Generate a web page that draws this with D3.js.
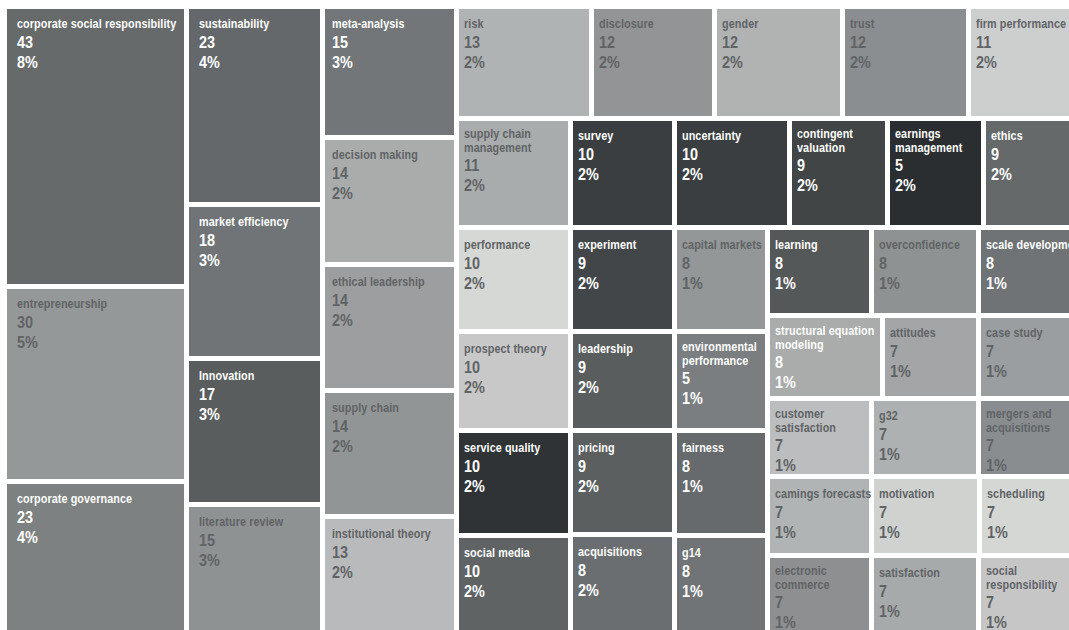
<!DOCTYPE html>
<html>
<head>
<meta charset="utf-8">
<script src="https://cdn.jsdelivr.net/npm/d3@7"></script>
<style>
  body { margin: 0; background: #fff; }
  svg { display: block; }
  text { font-family: "Liberation Sans", Arial, sans-serif; font-weight: bold; }
</style>
</head>
<body>
<div id="chart"></div>
<script>
// keywords with the count and share printed in each cell
const keywords = [
  "corporate social responsibility", "entrepreneurship", "corporate governance",
  "sustainability", "market efficiency", "Innovation", "literature review",
  "meta-analysis", "decision making", "ethical leadership", "supply chain", "institutional theory",
  "risk", "disclosure", "gender", "trust", "firm performance",
  "supply chain management", "survey", "uncertainty", "contingent valuation", "earnings management", "ethics",
  "performance", "prospect theory", "service quality", "social media",
  "experiment", "leadership", "pricing", "acquisitions",
  "capital markets", "environmental performance", "fairness", "g14",
  "learning", "overconfidence", "scale development",
  "structural equation modeling", "attitudes", "case study",
  "customer satisfaction", "g32", "mergers and acquisitions",
  "camings forecasts", "motivation", "scheduling",
  "electronic commerce", "satisfaction", "social responsibility"
];
const counts = [
  43, 30, 23,
  23, 18, 17, 15,
  15, 14, 14, 14, 13,
  13, 12, 12, 12, 11,
  11, 10, 10, 9, 5, 9,
  10, 10, 10, 10,
  9, 9, 9, 8,
  8, 5, 8, 8,
  8, 8, 8,
  8, 7, 7,
  7, 7, 7,
  7, 7, 7,
  7, 7, 7
];
const shares = [
  "8%", "5%", "4%",
  "4%", "3%", "3%", "3%",
  "3%", "2%", "2%", "2%", "2%",
  "2%", "2%", "2%", "2%", "2%",
  "2%", "2%", "2%", "2%", "2%", "2%",
  "2%", "2%", "2%", "2%",
  "2%", "2%", "2%", "2%",
  "1%", "1%", "1%", "1%",
  "1%", "1%", "1%",
  "1%", "1%", "1%",
  "1%", "1%", "1%",
  "1%", "1%", "1%",
  "1%", "1%", "1%"
];
// relative cell areas as they appear in the picture (not the counts)
const weights = [
  509.6, 354.9, 293.0,
  268.6, 210.1, 199.2, 187.0,
  175.5, 170.9, 168.2, 168.2, 169.5,
  151.2, 137.8, 143.4, 140.6, 133.8,
  124.8, 113.9, 125.9, 107.9, 104.6, 113.9,
  118.3, 113.1, 119.1, 122.6,
  108.2, 103.0, 108.2, 112.3,
  97.1, 92.8, 97.7, 100.5,
  91.5, 94.2, 95.5,
  95.2, 79.5, 89.8,
  80.8, 83.1, 84.3,
  82.5, 84.9, 86.0,
  90.7, 93.3, 94.6
];
const fills = [
  "#676a6b", "#959898", "#7e8181",
  "#65686a", "#707477", "#5a5d5e", "#8f9293",
  "#727678", "#a9acab", "#9c9e9f", "#929595", "#b9babb",
  "#b0b3b3", "#929495", "#b0b3b2", "#8b8e90", "#cdcfce",
  "#a9acac", "#3b3e40", "#3b3e40", "#424546", "#2b2e30", "#65696a",
  "#d6d8d5", "#c8c8c8", "#303336", "#5f6364",
  "#434648", "#5a5d5e", "#5c5f60", "#6b6e70",
  "#949798", "#7a7e80", "#676a6c", "#717476",
  "#555859", "#8f9293", "#6f7375",
  "#a9acab", "#a3a5a6", "#9b9ea0",
  "#bcbdbe", "#aeb1b1", "#8a8d90",
  "#b1b4b4", "#d0d2d0", "#d5d7d4",
  "#8d8f90", "#a7aaaa", "#c6c6c6"
];
// cells whose labels are printed in white
const whiteLabels = [
  "corporate social responsibility", "corporate governance", "sustainability", "market efficiency",
  "Innovation", "meta-analysis", "survey", "uncertainty", "contingent valuation",
  "earnings management", "ethics", "experiment", "leadership", "environmental performance",
  "service quality", "pricing", "fairness", "social media", "acquisitions", "g14",
  "learning", "scale development", "structural equation modeling"
];
// how cells are grouped: "h" = side by side, "v" = stacked
const tiling = ["h", [
  ["v", keywords.slice(0, 3)],
  ["v", keywords.slice(3, 7)],
  ["v", keywords.slice(7, 12)],
  ["v", [
    ["h", keywords.slice(12, 17)],
    ["h", keywords.slice(17, 23)],
    ["h", [
      ["v", keywords.slice(23, 27)],
      ["v", keywords.slice(27, 31)],
      ["v", keywords.slice(31, 35)],
      ["v", [
        ["h", keywords.slice(35, 38)],
        ["h", keywords.slice(38, 41)],
        ["h", keywords.slice(41, 44)],
        ["h", keywords.slice(44, 47)],
        ["h", keywords.slice(47, 50)]
      ]]
    ]]
  ]]
]];

const width = 1069, height = 630;
const squeeze = 0.9; // condensed look for the labels

const weightOf = new Map(keywords.map((k, i) => [k, weights[i]]));
const countOf = new Map(keywords.map((k, i) => [k, counts[i]]));
const shareOf = new Map(keywords.map((k, i) => [k, shares[i]]));
const fill = d3.scaleOrdinal().domain(keywords).range(fills);
const labelColor = d3.scaleOrdinal()
  .domain(keywords)
  .range(keywords.map(k => whiteLabels.includes(k) ? "#ffffff" : "#606366"));

function build(node) {
  if (typeof node === "string") return { name: node };
  return { dir: node[0], children: node[1].map(build) };
}

function tile(node, x0, y0, x1, y1) {
  (node.data.dir === "h" ? d3.treemapDice : d3.treemapSlice)(node, x0, y0, x1, y1);
}

const root = d3.hierarchy(build(tiling))
  .sum(d => d.name ? weightOf.get(d.name) : 0);

d3.treemap()
  .tile(tile)
  .size([1078, 631])
  .paddingInner(5)
  .round(true)(root);

const svg = d3.select("#chart")
  .append("svg")
  .attr("width", width)
  .attr("height", height);

const chart = svg.append("g")
  .attr("transform", "translate(7,9)");

// text inset differs a little between the left columns and the rest
function textPad(d) {
  const col = d.ancestors().find(a => a.depth === 1);
  return [10, 10, 7, 5][root.children.indexOf(col)];
}

const measure = svg.append("text").attr("font-size", 12).attr("visibility", "hidden");
function textWidth(s) {
  measure.text(s);
  return measure.node().getComputedTextLength() * squeeze;
}

function wrap(name, maxWidth) {
  const words = name.split(" ");
  const lines = [];
  let line = words[0];
  for (let i = 1; i < words.length; i++) {
    const next = line + " " + words[i];
    if (textWidth(next) > maxWidth) {
      lines.push(line);
      line = words[i];
    } else {
      line = next;
    }
  }
  lines.push(line);
  return lines;
}

const cell = chart.selectAll("g")
  .data(root.leaves())
  .enter()
  .append("g")
  .attr("transform", d => `translate(${d.x0},${d.y0})`);

cell.append("rect")
  .attr("width", d => d.x1 - d.x0)
  .attr("height", d => d.y1 - d.y0)
  .attr("fill", d => fill(d.data.name));

cell.each(function(d) {
  const pad = textPad(d);
  const lines = wrap(d.data.name, d.x1 - d.x0 - pad + 2);
  const multi = lines.length > 1;
  const text = d3.select(this).append("text")
    .attr("transform", `translate(${pad},0) scale(${squeeze},1)`)
    .attr("fill", labelColor(d.data.name));

  const top = multi ? 17 : 19;
  lines.forEach((ln, i) => {
    text.append("tspan")
      .attr("x", 0)
      .attr("y", top + i * 14)
      .attr("font-size", 12)
      .attr("letter-spacing", 0.1)
      .text(ln);
  });

  const y = top + (lines.length - 1) * 14 + (multi ? 19 : 20);
  text.append("tspan")
    .attr("x", 0)
    .attr("y", y)
    .attr("font-size", 16)
    .text(countOf.get(d.data.name));
  text.append("tspan")
    .attr("x", 0)
    .attr("y", y + 20)
    .attr("font-size", 16)
    .text(shareOf.get(d.data.name));
});

measure.remove();
</script>
</body>
</html>
